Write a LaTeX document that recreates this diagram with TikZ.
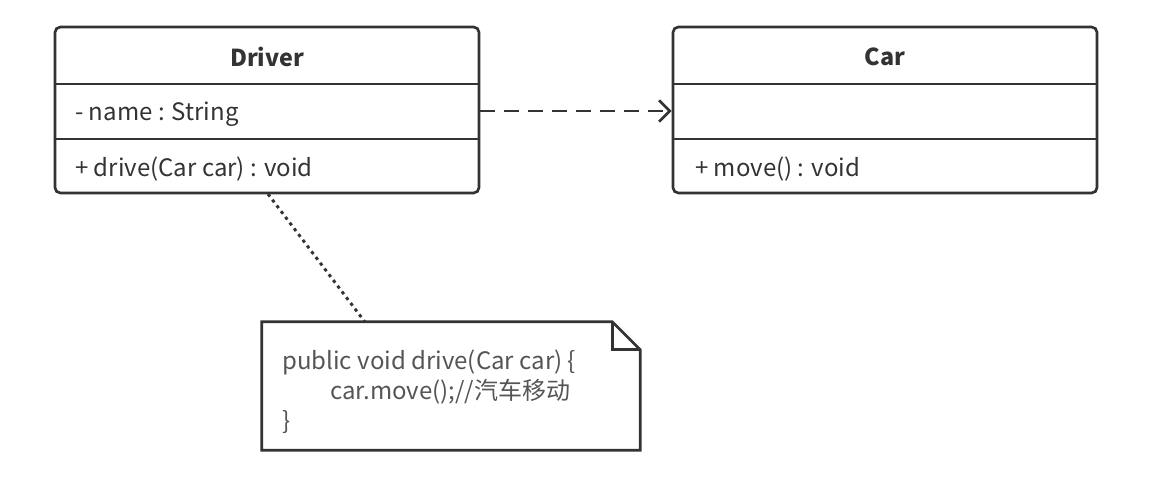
\documentclass[tikz,border=0pt]{standalone}
\usepackage{fontspec}
\setmainfont{Noto Sans CJK SC}
\usetikzlibrary{arrows.meta}
\definecolor{umlline}{HTML}{333333}
\definecolor{umltext}{HTML}{333333}
\definecolor{notetext}{HTML}{555555}
\begin{document}
\begin{tikzpicture}[x=0.75pt, y=-0.75pt,
    classbox/.style={rectangle, draw=umlline, line width=2pt, rounded corners=4pt,
                minimum width=318pt, minimum height=124.5pt, inner sep=0pt},
    title/.style={font=\fontsize{17.5pt}{20pt}\selectfont\bfseries, text=umltext, inner sep=0pt},
    member/.style={font=\fontsize{18pt}{20pt}\selectfont, text=umltext, inner sep=0pt, anchor=west},
    notetxt/.style={font=\fontsize{18pt}{22.5pt}\selectfont, text=notetext, inner sep=0pt, align=left},
    divider/.style={draw=umlline, line width=2pt},
    dep/.style={-{Straight Barb[length=8pt, width=16pt, line width=2pt]}, draw=umlline,
                line width=2.2pt, dash pattern=on 11pt off 7pt},
    noteline/.style={draw=umlline, line width=2.2pt, dash pattern=on 2.4pt off 3pt},
  ]
  \useasboundingbox (0,0) rectangle (1165,486);

  % Driver class
  \node[classbox] (driver) at (267,110) {};
  \node[title] (drvname) at (267,57) {Driver};
  \node[member] (drvattr) at (75,114) {- name : String};
  \node[member] (drvop) at (75,169) {+ drive(Car car) : void};
  \draw[divider] (driver.west |- 0,84) -- (driver.east |- 0,84);
  \draw[divider] (driver.west |- 0,139) -- (driver.east |- 0,139);

  % Car class
  \node[classbox] (car) at (885,110) {};
  \node[title] (carname) at (885,57) {Car};
  \node[member] (carop) at (695,169) {+ move() : void};
  \draw[divider] (car.west |- 0,84) -- (car.east |- 0,84);
  \draw[divider] (car.west |- 0,139) -- (car.east |- 0,139);

  % dependency
  \draw[dep] (driver.east |- 0,111) -- (car.west |- 0,111);

  % Note
  \node[rectangle, minimum width=283.5pt, minimum height=96pt, inner sep=0pt] (note) at (451,386) {};
  \draw[divider] (note.north west) -- ([xshift=-21pt]note.north east)
    -- ([yshift=-21pt]note.north east) -- (note.south east) -- (note.south west) -- cycle;
  \draw[divider] ([xshift=-21pt]note.north east) -- ++(0,-21pt) -- ([yshift=-21pt]note.north east);
  \node[notetxt, anchor=north west] (notebody) at (282,350)
    {public void drive(Car car) \{\\ \hspace*{36pt}car.move();//汽车移动\\ \}};

  \coordinate (drvpin) at (268,194);
  \coordinate (notepin) at (365,322);
  \draw[noteline] (drvpin) -- (notepin);

\end{tikzpicture}
\end{document}
